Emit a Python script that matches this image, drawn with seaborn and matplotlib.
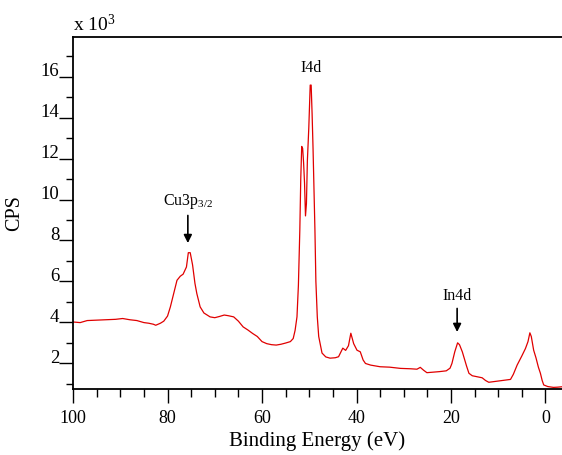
import matplotlib
matplotlib.use("Agg")
import matplotlib.pyplot as plt
import matplotlib.transforms as mtransforms
import numpy as np
import seaborn as sns

# binding energy (eV) and intensity (counts per second)
binding_energy = [
    100.0, 98.5, 97.0, 95.0, 93.0, 91.0, 89.5, 88.0, 86.5, 85.0, 84.0, 83.0,
    82.5, 81.5, 80.8, 80.0, 79.4, 78.7, 78.0, 77.3, 76.7, 76.0, 75.6, 75.2,
    74.7, 74.2, 73.8, 73.1, 72.3, 71.0, 70.0, 69.0, 68.0, 67.2, 66.0, 65.0,
    64.0, 63.0, 62.0, 61.0, 60.0, 59.0, 58.0, 57.0, 56.0, 55.0, 54.0, 53.4,
    53.0, 52.6, 52.3, 52.0, 51.8, 51.6, 51.4, 51.2, 51.0, 50.8, 50.6, 50.4,
    50.1, 49.8, 49.6, 49.4, 49.2, 49.0, 48.8, 48.6, 48.3, 48.0, 47.3, 46.5,
    45.6, 44.5, 43.8, 42.9, 42.3, 41.7, 41.2, 40.6, 39.9, 39.2, 38.6, 38.1,
    37.0, 35.0, 33.0, 30.7, 28.5, 27.2, 26.5, 25.8, 25.1, 24.0, 22.5, 21.0,
    20.2, 19.8, 19.2, 18.6, 18.2, 17.6, 17.3, 16.7, 16.2, 15.5, 14.5, 13.4,
    12.7, 12.0, 10.5, 9.0, 7.4, 6.8, 6.0, 5.0, 4.24, 3.7, 3.3, 3.0,
    2.5, 2.0, 1.5, 1.07, 0.7, 0.37, -0.5, -1.7, -2.5, -3.5,
]
cps = [
    4010, 3980, 4080, 4100, 4120, 4140, 4180, 4120, 4080, 3980, 3950, 3900,
    3850, 3950, 4050, 4300, 4750, 5400, 6050, 6250, 6350, 6700, 7400, 7400,
    6800, 5900, 5400, 4750, 4450, 4260, 4220, 4280, 4350, 4320, 4260, 4050,
    3770, 3620, 3450, 3300, 3050, 2950, 2900, 2880, 2920, 2980, 3050, 3200,
    3600, 4260, 5800, 8500, 11000, 12600, 12500, 11800, 10800, 9200, 9800, 11900,
    13500, 15600, 15600, 14200, 12500, 10500, 8500, 6000, 4260, 3300, 2490, 2300,
    2240, 2260, 2310, 2730, 2620, 2850, 3460, 2950, 2630, 2550, 2150, 1980,
    1900, 1820, 1800, 1740, 1720, 1700, 1790, 1650, 1530, 1550, 1580, 1620,
    1750, 1980, 2550, 2990, 2900, 2550, 2310, 1850, 1500, 1380, 1330, 1280,
    1150, 1060, 1100, 1150, 1200, 1450, 1900, 2350, 2710, 3050, 3480, 3300,
    2630, 2250, 1800, 1500, 1150, 930, 850, 810, 820, 840,
]

x_major = [100, 80, 60, 40, 20, 0]
y_major = [2000, 4000, 6000, 8000, 10000, 12000, 14000, 16000]
y_tick_labels = ["2", "4", "6", "8", "10", "12", "14", "16"]

peak_labels = ["I4d", "Cu3p$_{3/2}$", "In4d"]
peak_energy = [49.6, 75.7, 18.7]


def main():
    sns.set_style("white")
    plt.rcParams["font.family"] = ["Liberation Serif", "DejaVu Serif"]
    plt.rcParams["mathtext.default"] = "regular"
    plt.rcParams["text.color"] = "black"
    plt.rcParams["axes.labelcolor"] = "black"

    fig = plt.figure(figsize=(5.62, 4.55), dpi=100)
    ax = fig.add_axes([0.130, 0.145, 0.870, 0.774])

    sns.lineplot(x=binding_energy, y=cps, color="#e00000", linewidth=0.9,
                 ax=ax)

    ax.set_xlim(100, -3.5)
    ax.set_ylim(730, 17960)

    ax.set_xticks(x_major)
    ax.set_xticks(np.arange(95, -1, -5), minor=True)
    ax.set_yticks(y_major)
    ax.set_yticklabels(y_tick_labels)
    ax.set_yticks(np.arange(1000, 18000, 2000), minor=True)

    ax.tick_params(axis="x", which="both", bottom=True, top=False)
    ax.tick_params(axis="y", which="both", left=True, right=False)
    ax.tick_params(axis="x", which="major", direction="out", length=10,
                   width=1, labelsize=13, pad=5, colors="black")
    ax.tick_params(axis="x", which="minor", direction="out", length=6,
                   width=1, colors="black")
    ax.tick_params(axis="y", which="major", direction="out", length=10,
                   width=1, labelsize=13.5, pad=0, colors="black")
    ax.tick_params(axis="y", which="minor", direction="out", length=5,
                   width=1, colors="black")
    # the y labels sit a little above their tick marks
    shift = mtransforms.ScaledTranslation(0, 7 / 100, fig.dpi_scale_trans)
    for lab in ax.get_yticklabels():
        lab.set_transform(lab.get_transform() + shift)

    for side in ["left", "bottom", "top"]:
        ax.spines[side].set_color("black")
        ax.spines[side].set_linewidth(1.3)
    ax.spines["right"].set_visible(False)

    ax.set_xlabel("Binding Energy (eV)", fontsize=15, labelpad=3)
    ax.set_ylabel("CPS", fontsize=14.5, labelpad=12)
    ax.text(0, 1.005, "x 10$^3$", transform=ax.transAxes, fontsize=14,
            ha="left", va="bottom")

    # peak labels
    ax.text(peak_energy[0], 16450, peak_labels[0], fontsize=11.5,
            ha="center", va="center")
    ax.annotate(peak_labels[1], xy=(peak_energy[1], 7870),
                xytext=(peak_energy[1], 9450), fontsize=11.5,
                ha="center", va="bottom",
                arrowprops=dict(arrowstyle="-|>", color="black", lw=1.2,
                                mutation_scale=12, shrinkA=1, shrinkB=0))
    ax.annotate(peak_labels[2], xy=(peak_energy[2], 3520),
                xytext=(peak_energy[2], 4900), fontsize=11.5,
                ha="center", va="bottom",
                arrowprops=dict(arrowstyle="-|>", color="black", lw=1.2,
                                mutation_scale=12, shrinkA=1, shrinkB=0))

    fig.savefig("out.png", dpi=100)


if __name__ == "__main__":
    main()
